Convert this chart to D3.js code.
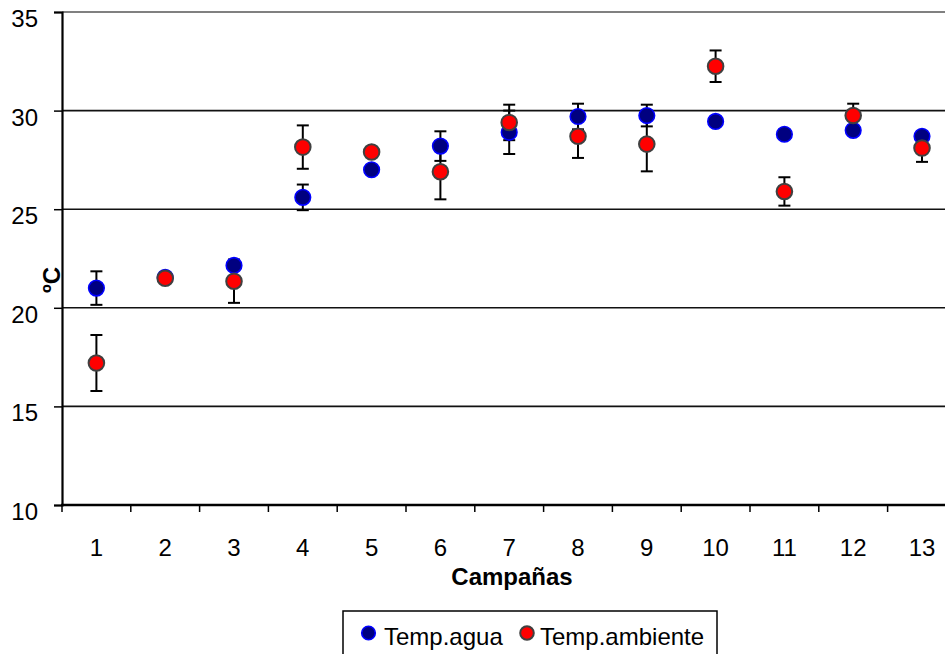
<!DOCTYPE html>
<html>
<head>
<meta charset="utf-8">
<script src="https://cdn.jsdelivr.net/npm/d3@7/dist/d3.min.js"></script>
<style>
  html, body { margin: 0; padding: 0; background: #fff; }
  svg { display: block; font-family: "Liberation Sans", Arial, sans-serif; }
</style>
</head>
<body>
<svg id="chart" width="945" height="654"></svg>
<script>
// Campaign numbers on the x axis
const campaigns = [1, 2, 3, 4, 5, 6, 7, 8, 9, 10, 11, 12, 13];

// Water temperature (mean and error) per campaign, ºC
const aguaMean = [21.0, 21.55, 22.15, 25.6, 27.0, 28.2, 28.9, 29.7, 29.75, 29.45, 28.8, 29.0, 28.7];
const aguaErr  = [0.85, 0, 0, 0.65, 0, 0.75, 1.1, 0.65, 0.55, 0, 0, 0, 0];

// Ambient temperature (mean and error) per campaign, ºC
const ambMean = [17.2, 21.5, 21.35, 28.15, 27.9, 26.9, 29.4, 28.7, 28.3, 32.25, 25.9, 29.75, 28.1];
const ambErr  = [1.42, 0, 1.1, 1.1, 0, 1.4, 0.9, 1.1, 1.38, 0.8, 0.72, 0.6, 0.7];

const yTicks = [10, 15, 20, 25, 30, 35];
const seriesNames = ["Temp.agua", "Temp.ambiente"];

const svg = d3.select("#chart");
const W = 945, H = 654;
svg.append("rect").attr("width", W).attr("height", H).attr("fill", "#fff");

const plot = { left: 62, top: 12, right: 956.4, bottom: 505 };

const x = d3.scaleBand().domain(campaigns).range([plot.left, plot.right]).paddingInner(0).paddingOuter(0);
const y = d3.scaleLinear().domain([10, 35]).range([plot.bottom, plot.top]);
const cx = c => x(c) + x.bandwidth() / 2;

// Horizontal gridlines
svg.append("g").selectAll("line")
  .data(yTicks.filter(t => t > 10 && t < 35))
  .join("line")
  .attr("x1", plot.left).attr("x2", W)
  .attr("y1", d => y(d)).attr("y2", d => y(d))
  .attr("stroke", "#111").attr("stroke-width", 1.6);

// Top border of the plot area
svg.append("line")
  .attr("x1", plot.left).attr("x2", W)
  .attr("y1", y(35)).attr("y2", y(35))
  .attr("stroke", "#808080").attr("stroke-width", 2);

// Y axis
const yAxis = d3.axisLeft(y).tickValues(yTicks).tickSize(8).tickPadding(16);
const gy = svg.append("g").attr("transform", `translate(${plot.left},0)`).call(yAxis);
gy.select(".domain").attr("stroke", "#000").attr("stroke-width", 2.2);
gy.selectAll(".tick line").attr("stroke", "#000").attr("stroke-width", 1.5);
gy.selectAll(".tick text")
  .attr("font-size", 24).attr("fill", "#000")
  .attr("font-family", "Liberation Sans, Arial, sans-serif")
  .attr("dy", "0.6em").attr("x", -24);

// X axis: labels at band centres, ticks at band boundaries
const boundaries = campaigns.map(c => x(c)).concat([plot.right]);
svg.append("g").selectAll("line")
  .data(boundaries.filter(b => b <= W))
  .join("line")
  .attr("x1", d => d).attr("x2", d => d)
  .attr("y1", plot.bottom).attr("y2", plot.bottom + 7)
  .attr("stroke", "#000").attr("stroke-width", 1.5);

svg.append("line")
  .attr("x1", plot.left - 1).attr("x2", W)
  .attr("y1", plot.bottom).attr("y2", plot.bottom)
  .attr("stroke", "#000").attr("stroke-width", 2.6);

svg.append("g").selectAll("text")
  .data(campaigns)
  .join("text")
  .attr("x", d => cx(d)).attr("y", 556)
  .attr("text-anchor", "middle")
  .attr("font-size", 24).attr("fill", "#000")
  .text(d => d);

// Axis titles
svg.append("text")
  .attr("x", 512).attr("y", 585)
  .attr("text-anchor", "middle")
  .attr("font-size", 24).attr("font-weight", "bold")
  .text("Campañas");

svg.append("text")
  .attr("transform", "translate(60,280) rotate(-90)")
  .attr("text-anchor", "middle")
  .attr("font-size", 24).attr("font-weight", "bold")
  .text("ºC");

// Error bars for both series
function errorBars(means, errs) {
  const d = campaigns.map((c, i) => ({ c, m: means[i], e: errs[i] })).filter(v => v.e > 0);
  const g = svg.append("g").attr("stroke", "#000").attr("stroke-width", 2).attr("fill", "none");
  g.selectAll("line.v").data(d).join("line").attr("class", "v")
    .attr("x1", v => cx(v.c)).attr("x2", v => cx(v.c))
    .attr("y1", v => y(v.m + v.e)).attr("y2", v => y(v.m - v.e));
  g.selectAll("line.t").data(d).join("line").attr("class", "t")
    .attr("x1", v => cx(v.c) - 6).attr("x2", v => cx(v.c) + 6)
    .attr("y1", v => y(v.m + v.e)).attr("y2", v => y(v.m + v.e));
  g.selectAll("line.b").data(d).join("line").attr("class", "b")
    .attr("x1", v => cx(v.c) - 6).attr("x2", v => cx(v.c) + 6)
    .attr("y1", v => y(v.m - v.e)).attr("y2", v => y(v.m - v.e));
}
errorBars(aguaMean, aguaErr);
errorBars(ambMean, ambErr);

// Markers
const styles = [
  { fill: "#000080", stroke: "#0000ff", sw: 1.6 },
  { fill: "#ff0000", stroke: "#404040", sw: 2 }
];
[aguaMean, ambMean].forEach((means, s) => {
  svg.append("g").selectAll("circle")
    .data(campaigns.map((c, i) => ({ c, m: means[i] })))
    .join("circle")
    .attr("cx", v => cx(v.c)).attr("cy", v => y(v.m))
    .attr("r", 7.8)
    .attr("fill", styles[s].fill)
    .attr("stroke", styles[s].stroke)
    .attr("stroke-width", styles[s].sw);
});

// Legend
const lg = svg.append("g");
lg.append("rect")
  .attr("x", 343).attr("y", 611).attr("width", 374).attr("height", 60)
  .attr("fill", "#fff").attr("stroke", "#000").attr("stroke-width", 1.5);
const legendItems = [
  { name: seriesNames[0], mx: 368.5, tx: 384 },
  { name: seriesNames[1], mx: 527, tx: 540 }
];
legendItems.forEach((it, s) => {
  lg.append("circle")
    .attr("cx", it.mx).attr("cy", 633).attr("r", 6.8)
    .attr("fill", styles[s].fill).attr("stroke", styles[s].stroke).attr("stroke-width", styles[s].sw);
  lg.append("text")
    .attr("x", it.tx).attr("y", 645)
    .attr("font-size", 24).attr("fill", "#000")
    .text(it.name);
});
</script>
</body>
</html>
